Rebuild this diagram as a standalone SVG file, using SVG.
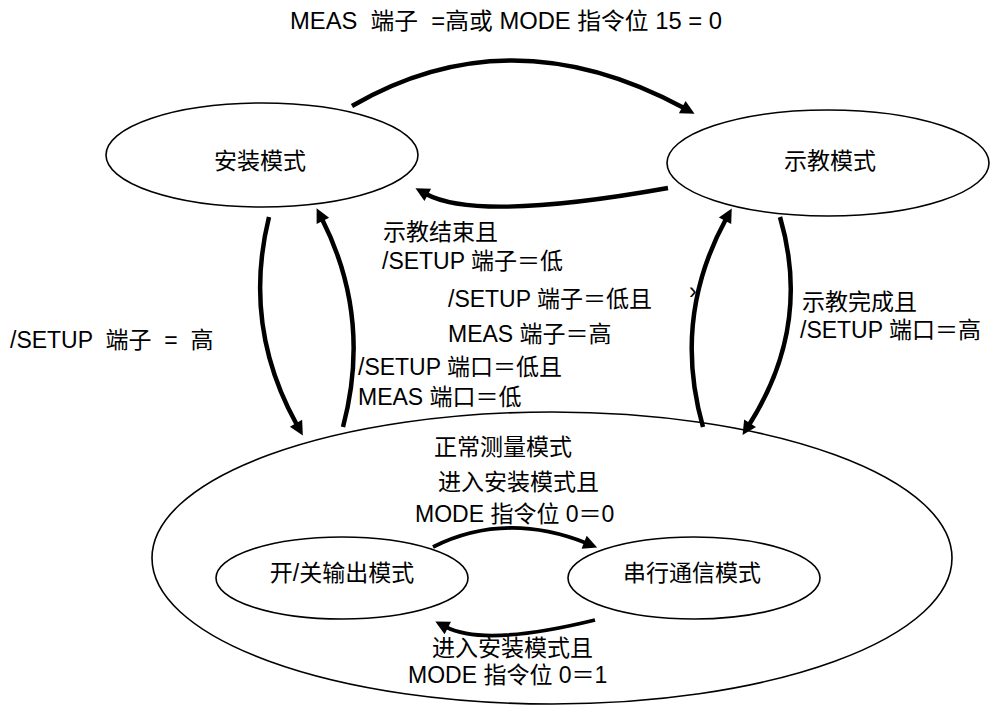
<svg xmlns="http://www.w3.org/2000/svg" width="990" height="705" viewBox="0 0 990 705">
<style>
  text { font-family: "Liberation Sans", "Noto Sans CJK SC", sans-serif; font-size: 23px; fill: #000; white-space: pre; }
  .node { fill: #fff; stroke: #000; stroke-width: 1.6; }
  .arr { fill: none; stroke: #000; stroke-width: 4.5; marker-end: url(#ah); }
  .arr2 { fill: none; stroke: #000; stroke-width: 3.8; marker-end: url(#ah); }
  .mid { text-anchor: middle; }
</style>
<defs>
  <marker id="ah" markerUnits="userSpaceOnUse" markerWidth="16" markerHeight="14" refX="2" refY="7" orient="auto" overflow="visible">
    <path d="M0,0 L14,7 L0,14 z" fill="#000"/>
  </marker>
</defs>
<rect width="990" height="705" fill="#fff"/>

<g id="normal">
  <ellipse class="node" cx="552" cy="558" rx="400" ry="146"/>
  <text class="mid" x="503" y="455">正常测量模式</text>
</g>
<g id="setup">
  <ellipse class="node" cx="262" cy="155" rx="156" ry="52"/>
  <text class="mid" x="260" y="169">安装模式</text>
</g>
<g id="teach">
  <ellipse class="node" cx="828" cy="163" rx="161" ry="53"/>
  <text class="mid" x="830" y="169">示教模式</text>
</g>
<g id="onoff">
  <ellipse class="node" cx="342" cy="578" rx="126" ry="41"/>
  <text class="mid" x="342" y="581">开/关输出模式</text>
</g>
<g id="serial">
  <ellipse class="node" cx="694" cy="578" rx="126" ry="41"/>
  <text class="mid" x="692" y="581">串行通信模式</text>
</g>

<g id="connectors">
  <path class="arr" d="M352,106 Q510,14 684,108"/>
  <path class="arr" d="M668,188 Q478,222 426,194"/>
  <path class="arr" d="M269,217 Q242,326 297,425"/>
  <path class="arr" d="M343,427 Q372,318 322,219"/>
  <path class="arr" d="M703,427 Q672,318 726,219"/>
  <path class="arr" d="M780,217 Q812,326 749,425"/>
  <path class="arr2" d="M433,547 Q505,511 586,543"/>
  <path class="arr2" d="M595,620 Q485,647 446,627"/>
</g>

<g id="labels">
  <text x="290" y="29" font-size="20" textLength="432" lengthAdjust="spacingAndGlyphs">MEAS  端子  =高或 MODE 指令位 15 = 0</text>
  <text x="383" y="240">示教结束且</text>
  <text x="382" y="269">/SETUP 端子＝低</text>
  <text x="448" y="307">/SETUP 端子＝低且</text>
  <text x="448" y="342">MEAS 端子＝高</text>
  <text x="10" y="348">/SETUP  端子  =  高</text>
  <text x="358" y="375">/SETUP 端口＝低且</text>
  <text x="358" y="405">MEAS 端口＝低</text>
  <text x="802" y="310">示教完成且</text>
  <text x="800" y="338">/SETUP 端口＝高</text>
  <text x="438" y="490">进入安装模式且</text>
  <text x="415" y="522">MODE 指令位 0＝0</text>
  <text x="432" y="656">进入安装模式且</text>
  <text x="408" y="683">MODE 指令位 0＝1</text>
  <text x="689" y="299" font-size="10">›</text>
</g>
</svg>
